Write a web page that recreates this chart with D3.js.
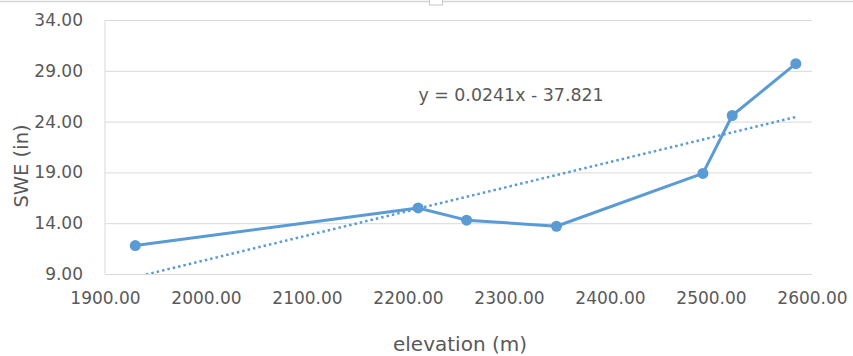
<!DOCTYPE html>
<html>
<head>
<meta charset="utf-8">
<script src="https://cdn.jsdelivr.net/npm/d3@7"></script>
<style>
  html, body { margin: 0; padding: 0; background: #fff; }
  svg { display: block; }
  text { font-family: "DejaVu Sans", sans-serif; fill: #595959; }
</style>
</head>
<body>
<svg id="chart" width="853" height="356"></svg>
<script>
// Snow water equivalent by station elevation
const elevation = [1930, 2210, 2258, 2347, 2492, 2521, 2584];
const swe = [11.8, 15.5, 14.3, 13.7, 18.9, 24.6, 29.7];
const xTicks = [1900, 2000, 2100, 2200, 2300, 2400, 2500, 2600];
const yTicks = [9, 14, 19, 24, 29, 34];
// Linear trend: y = slope * x + intercept
const trendSlope = 0.0241;
const trendIntercept = -37.821;
const trendLabel = "y = 0.0241x - 37.821";

const svg = d3.select("#chart");
const x = d3.scaleLinear().domain([1900, 2600]).range([105, 812]);
const y = d3.scaleLinear().domain([9, 34]).range([274, 20]);
const blue = "#5B9BD5";

// outer frame edge and selection handle
svg.append("line").attr("x1", 0).attr("x2", 853).attr("y1", 1.5).attr("y2", 1.5)
  .attr("stroke", "#d4d4d4").attr("stroke-width", 1.5);
svg.append("rect").attr("x", 429.5).attr("y", -4).attr("width", 13).attr("height", 9)
  .attr("fill", "#fff").attr("stroke", "#c8c8c8").attr("stroke-width", 1);

// horizontal gridlines
svg.append("g").attr("transform", `translate(${x.range()[0]},0)`)
  .call(d3.axisLeft(y).tickValues(yTicks).tickSize(-(x.range()[1] - x.range()[0])).tickFormat(d => d.toFixed(2)).tickPadding(22))
  .call(g => g.select(".domain").remove())
  .call(g => g.selectAll(".tick line").attr("stroke", "#d9d9d9").attr("stroke-width", 1))
  .call(g => g.selectAll(".tick text").attr("font-size", 17).attr("fill", "#595959")
    .attr("font-family", "DejaVu Sans"));

// vertical axis line
svg.append("line").attr("x1", x.range()[0]).attr("x2", x.range()[0])
  .attr("y1", y(34)).attr("y2", y(9)).attr("stroke", "#d9d9d9").attr("stroke-width", 1);

// x tick labels
svg.append("g").attr("transform", `translate(0,${y(9)})`)
  .call(d3.axisBottom(x).tickValues(xTicks).tickSize(0).tickFormat(d => d.toFixed(2)).tickPadding(18))
  .call(g => g.select(".domain").remove())
  .call(g => g.selectAll(".tick text").attr("font-size", 17).attr("fill", "#595959")
    .attr("font-family", "DejaVu Sans"));

// trend line, clipped to the plot area
svg.append("clipPath").attr("id", "plot").append("rect")
  .attr("x", x.range()[0]).attr("y", y(34)).attr("width", x.range()[1] - x.range()[0]).attr("height", y(9) - y(34));
const trendX = d3.extent(elevation);
svg.append("line")
  .attr("clip-path", "url(#plot)")
  .attr("x1", x(trendX[0])).attr("y1", y(trendSlope * trendX[0] + trendIntercept))
  .attr("x2", x(trendX[1])).attr("y2", y(trendSlope * trendX[1] + trendIntercept))
  .attr("stroke", blue).attr("stroke-width", 2.5).attr("stroke-dasharray", "2.5,3");

// data series
const pts = elevation.map((e, i) => [e, swe[i]]);
svg.append("path").datum(pts)
  .attr("d", d3.line().x(d => x(d[0])).y(d => y(d[1])))
  .attr("fill", "none").attr("stroke", blue).attr("stroke-width", 3).attr("stroke-linejoin", "round");
svg.append("g").selectAll("circle").data(pts).join("circle")
  .attr("cx", d => x(d[0])).attr("cy", d => y(d[1])).attr("r", 5.5).attr("fill", blue);

// trend equation
svg.append("text").attr("x", 511).attr("y", 101).attr("text-anchor", "middle")
  .attr("font-size", 17.4).text(trendLabel);

// axis titles
svg.append("text").attr("x", 460).attr("y", 351).attr("text-anchor", "middle")
  .attr("font-size", 20).text("elevation (m)");
svg.append("text").attr("transform", "translate(28,166) rotate(-90)").attr("text-anchor", "middle")
  .attr("font-size", 19.5).text("SWE (in)");
</script>
</body>
</html>
